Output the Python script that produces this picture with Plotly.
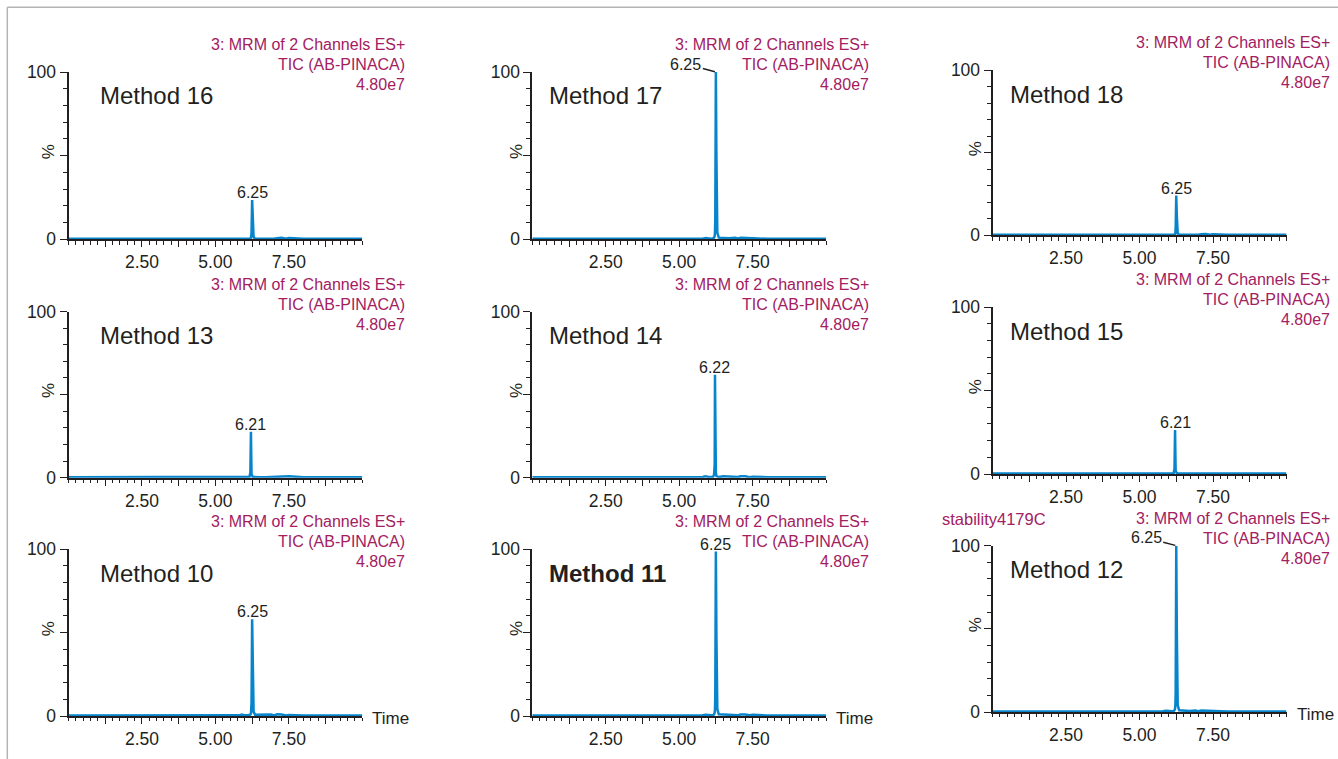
import plotly.graph_objects as go

# ---------------- data ----------------
time_min = [0.00, 1.00, 2.00, 3.00, 4.00, 5.00, 5.80, 5.90, 6.00, 6.10,
            6.16, 6.19, 6.21, 6.22, 6.23, 6.25, 6.27, 6.30, 6.35, 6.50,
            6.70, 6.90, 7.00, 7.10, 7.25, 7.40, 7.50, 8.00, 9.00, 10.00]

m16 = [0.3, 0.3, 0.3, 0.3, 0.3, 0.3, 0.3, 0.5, 0.3, 0.3,
       0.4, 0.5, 0.8, 1.5, 4.0, 23.5, 11.0, 1.2, 0.4, 0.3,
       0.3, 0.4, 0.3, 0.6, 0.9, 0.3, 0.7, 0.3, 0.3, 0.3]
m17 = [0.3, 0.3, 0.3, 0.3, 0.3, 0.3, 0.4, 0.8, 0.4, 0.4,
       0.6, 1.0, 2.0, 4.0, 12.0, 100.0, 48.0, 4.0, 1.0, 0.8,
       0.6, 0.9, 0.5, 0.9, 0.8, 0.4, 0.6, 0.3, 0.3, 0.3]
m18 = [0.3, 0.3, 0.3, 0.3, 0.3, 0.3, 0.3, 0.4, 0.3, 0.3,
       0.4, 0.5, 0.8, 1.5, 4.0, 24.0, 11.5, 1.2, 0.4, 0.3,
       0.3, 0.3, 0.3, 0.7, 0.8, 0.3, 0.6, 0.3, 0.3, 0.3]
m13 = [0.3, 0.3, 0.3, 0.3, 0.3, 0.3, 0.3, 0.4, 0.3, 0.4,
       0.5, 3.0, 27.7, 14.0, 2.0, 0.8, 0.5, 0.4, 0.3, 0.3,
       0.3, 0.4, 0.3, 0.5, 0.6, 0.3, 0.8, 0.3, 0.3, 0.3]
m14 = [0.3, 0.3, 0.3, 0.3, 0.3, 0.3, 0.4, 0.9, 0.4, 0.4,
       0.6, 2.0, 8.0, 62.0, 30.0, 3.0, 1.0, 0.6, 0.4, 0.8,
       0.5, 0.6, 0.4, 0.9, 0.9, 0.3, 0.6, 0.3, 0.3, 0.3]
m15 = [0.3, 0.3, 0.3, 0.3, 0.3, 0.3, 0.3, 0.6, 0.3, 0.4,
       0.5, 3.0, 26.4, 13.0, 2.0, 0.8, 0.5, 0.4, 0.3, 0.3,
       0.3, 0.3, 0.3, 0.5, 0.6, 0.3, 0.5, 0.3, 0.3, 0.3]
m10 = [0.3, 0.3, 0.3, 0.3, 0.3, 0.3, 0.4, 0.9, 0.4, 0.4,
       0.5, 0.8, 1.5, 3.0, 8.0, 58.0, 29.0, 2.5, 0.8, 0.8,
       0.5, 0.9, 0.4, 1.0, 0.9, 0.3, 0.6, 0.3, 0.3, 0.3]
m11 = [0.3, 0.3, 0.3, 0.3, 0.3, 0.3, 0.4, 0.8, 0.4, 0.4,
       0.6, 1.0, 2.0, 4.0, 12.0, 98.6, 47.0, 4.0, 1.0, 0.9,
       0.6, 0.9, 0.5, 0.9, 0.9, 0.4, 0.7, 0.3, 0.3, 0.3]
m12 = [0.3, 0.3, 0.3, 0.3, 0.3, 0.3, 0.4, 0.8, 0.4, 0.4,
       0.6, 1.0, 2.0, 4.0, 12.0, 100.0, 48.0, 4.0, 1.0, 0.8,
       0.6, 0.9, 0.5, 0.9, 0.8, 0.4, 0.6, 0.3, 0.3, 0.3]

method_names = ["Method 16", "Method 17", "Method 18",
                "Method 13", "Method 14", "Method 15",
                "Method 10", "Method 11", "Method 12"]
series = [m16, m17, m18, m13, m14, m15, m10, m11, m12]
peak_rt = [6.25, 6.25, 6.25, 6.21, 6.22, 6.21, 6.25, 6.25, 6.25]
peak_labels = ["6.25", "6.25", "6.25", "6.21", "6.22", "6.21", "6.25", "6.25", "6.25"]
header_lines = ["3: MRM of 2 Channels ES+", "TIC (AB-PINACA)", "4.80e7"]
x_tick_vals = [1.25, 2.50, 3.75, 5.00, 6.25, 7.50, 8.75]
x_tick_text = ["", "2.50", "", "5.00", "", "7.50", ""]
y_tick_vals = [0, 50, 100]
y_tick_text = ["0", "", "100"]

# ---------------- layout helpers ----------------
W, H = 1338, 759
FONT = "Liberation Sans, Arial, Helvetica, sans-serif"
INK = "#231f20"
MAGENTA = "#a3205f"
BLUE = "#0785cc"


def fx(p):
    return p / W


def fy(p):
    return 1 - p / H


cols_x = [(68.5, 362.3), (532.3, 826.0), (992.5, 1286.5)]
rows_y_left = [(72.0, 239.3), (311.5, 477.7), (549.3, 716.0)]
rows_y_right = [(70.0, 235.3), (307.3, 474.0), (545.7, 712.0)]
label_dx = [29.5, 15.0, 15.0]
pct_dx = [-20.0, -16.0, -17.0]

fig = go.Figure()
annotations = []
layout = {}

for i in range(9):
    r, c = divmod(i, 3)
    x0, x1 = cols_x[c]
    ytop, ybot = (rows_y_right if c == 2 else rows_y_left)[r]
    n = i + 1
    xa = "x" if n == 1 else f"x{n}"
    ya = "y" if n == 1 else f"y{n}"
    fig.add_trace(go.Scatter(
        x=time_min, y=series[i], mode="lines",
        line=dict(color=BLUE, width=2.5), xaxis=xa, yaxis=ya,
        showlegend=False, hoverinfo="skip"))

    layout[f"xaxis{'' if n == 1 else n}"] = dict(
        domain=[fx(x0), fx(x1)], anchor=ya, range=[0, 10], automargin=False,
        showline=True, linecolor=INK, linewidth=1.6, showgrid=False, zeroline=False,
        ticks="outside", tickvals=x_tick_vals, ticktext=x_tick_text,
        ticklen=6, tickwidth=1.3, tickcolor=INK,
        minor=dict(tick0=0, dtick=0.25, ticks="outside", ticklen=3.5,
                   tickwidth=1.2, tickcolor=INK, showgrid=False),
        tickfont=dict(family=FONT, size=17.5, color=INK), fixedrange=True)
    layout[f"yaxis{'' if n == 1 else n}"] = dict(
        domain=[fy(ybot), fy(ytop)], anchor=xa, range=[0, 100], automargin=False,
        showline=True, linecolor=INK, linewidth=1.8, showgrid=False, zeroline=False,
        ticks="outside", tickvals=y_tick_vals, ticktext=y_tick_text,
        ticklen=7, tickwidth=1.3, tickcolor=INK,
        minor=dict(tick0=0, dtick=10, ticks="outside", ticklen=4,
                   tickwidth=1.2, tickcolor=INK, showgrid=False),
        tickfont=dict(family=FONT, size=17.5, color=INK), fixedrange=True)

    # method label
    name = method_names[i]
    annotations.append(dict(
        xref="paper", yref="paper", x=fx(x0 + label_dx[c]), y=fy(ytop + 24),
        xanchor="left", yanchor="middle", showarrow=False,
        text=f"<b>{name}</b>" if name == "Method 11" else name,
        font=dict(family=FONT, size=24, color=INK)))

    # % axis label
    annotations.append(dict(
        xref="paper", yref="paper", x=fx(x0 + pct_dx[c]), y=fy((ytop + ybot) / 2 - 4),
        xanchor="center", yanchor="middle", showarrow=False, textangle=-90,
        text="%", font=dict(family=FONT, size=17, color=INK)))

    # header text (magenta)
    for k, (line, dy) in enumerate(zip(header_lines, [-27.5, -7.5, 12.5])):
        annotations.append(dict(
            xref="paper", yref="paper", x=fx(x1 + 45), y=fy(ytop + dy),
            xanchor="right", yanchor="middle", showarrow=False,
            text=line, font=dict(family=FONT, size=16, color=MAGENTA)))

    # peak label
    pk = max(series[i])
    if name in ("Method 17", "Method 12"):
        annotations.append(dict(
            xref=xa, yref=ya, x=peak_rt[i], y=pk, text=peak_labels[i],
            showarrow=True, arrowhead=0, arrowwidth=1.4, arrowcolor=INK,
            ax=-30, ay=-8, standoff=1,
            font=dict(family=FONT, size=16, color=INK)))
    else:
        annotations.append(dict(
            xref=xa, yref=ya, x=peak_rt[i], y=pk, text=peak_labels[i],
            xanchor="center", yanchor="bottom", showarrow=False, yshift=-3,
            font=dict(family=FONT, size=16, color=INK)))

    if r == 2:
        annotations.append(dict(
            xref="paper", yref="paper", x=fx(x1 + 8), y=fy(ybot + 2),
            xanchor="left", yanchor="middle", showarrow=False,
            text="Time", font=dict(family=FONT, size=17, color=INK)))

# sample name in last panel
annotations.append(dict(
    xref="paper", yref="paper", x=fx(940), y=fy(518.5),
    xanchor="left", yanchor="middle", showarrow=False,
    text="stability4179C", font=dict(family=FONT, size=16.5, color=MAGENTA)))

shapes = [
    dict(type="line", xref="paper", yref="paper", x0=fx(7.3), x1=1.0,
         y0=fy(7.3), y1=fy(7.3), line=dict(color="#b4b4b4", width=1.5)),
    dict(type="line", xref="paper", yref="paper", x0=fx(7.3), x1=fx(7.3),
         y0=fy(7.3), y1=0.0, line=dict(color="#b4b4b4", width=1.5)),
]

fig.update_layout(
    width=W, height=H,
    margin=dict(l=0, r=0, t=0, b=0, pad=0, autoexpand=False),
    paper_bgcolor="white", plot_bgcolor="white",
    annotations=annotations, shapes=shapes, **layout)

page_fix = (
    "var d=document.getElementById('{plot_id}');"
    "d.style.position='fixed';d.style.top='0px';d.style.left='0px';"
    "var h=document.documentElement, b=document.body;"
    "h.style.margin='0';h.style.padding='0';h.style.overflow='hidden';"
    "b.style.margin='0';b.style.padding='0';b.style.overflow='hidden';"
)

fig.write_html("out.html", config={"displayModeBar": False},
               post_script=page_fix)
